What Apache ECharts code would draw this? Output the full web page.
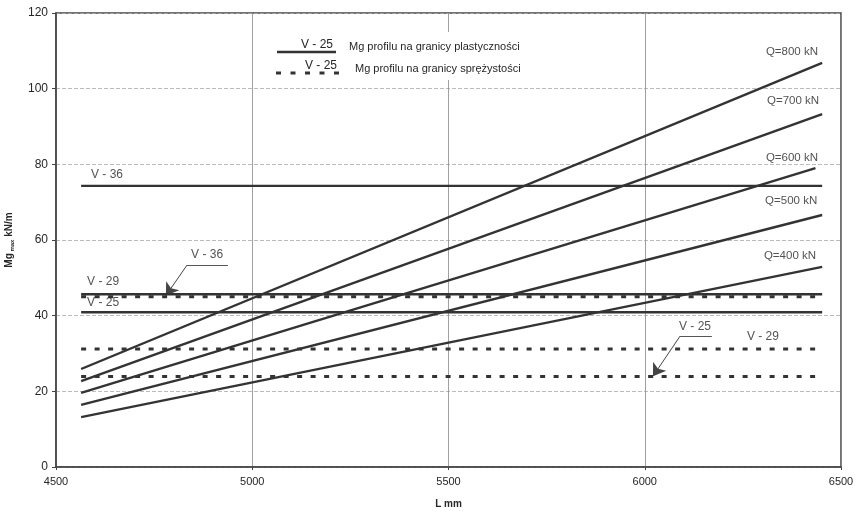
<!DOCTYPE html>
<html>
<head>
<meta charset="utf-8">
<script src="https://cdn.jsdelivr.net/npm/echarts@6/dist/echarts.min.js"></script>
<style>
  html, body { margin: 0; padding: 0; background: #fff; }
  #main { width: 860px; height: 512px; }
</style>
</head>
<body>
<div id="main"></div>
<script>
// --- data ---
var xTicks = [4500, 5000, 5500, 6000, 6500];
var yTicks = [0, 20, 40, 60, 80, 100, 120];

// load lines Q (start at L=4564, end near 6450)
var qNames = ['Q=800 kN', 'Q=700 kN', 'Q=600 kN', 'Q=500 kN', 'Q=400 kN'];
var qStartL = [4564, 4564, 4564, 4564, 4564];
var qStartMg = [25.9, 22.7, 19.6, 16.4, 13.2];
var qEndL = [6452, 6452, 6435, 6452, 6452];
var qEndMg = [106.8, 93.3, 79.0, 66.6, 52.9];
var qLabelPos = [[6375, 109.7], [6378, 96.7], [6375, 81.7], [6373, 70.3], [6370, 55.8]];

// profile capacities: plastic (solid) and elastic (dashed)
var profiles = ['V - 36', 'V - 29', 'V - 25'];
var plasticMg = [74.3, 45.65, 40.9];
var elasticMg = [45.0, 31.2, 23.9];
var profileL = [4564, 6452];

// annotation texts
var textLabels = [
    { name: 'V - 36', value: [4630, 77.2] },
    { name: 'V - 29', value: [4620, 48.9] },
    { name: 'V - 25', value: [4620, 43.4] },
    { name: 'V - 36', value: [4885, 56.0] },
    { name: 'V - 25', value: [6128, 37.0] },
    { name: 'V - 29', value: [6301, 34.4] }
];
// leader lines and arrows (data coords)
var leaders = [
    [[4834, 53.4], [4938, 53.4]],
    [[6090, 34.6], [6171, 34.6]]
];
var arrows = [
    [[4834, 53.4], [4780, 45.3]],
    [[6090, 34.6], [6021, 24.0]]
];

var ink = '#262626';
var font = 'Liberation Sans, Arial, sans-serif';

var chart = echarts.init(document.getElementById('main'));

var series = [];
var each = function (arr, fn) { for (var i = 0; i < arr.length; i++) fn(arr[i], i); };

each(qNames, function (n, i) {
    series.push({
        name: n,
        type: 'line',
        data: [[qStartL[i], qStartMg[i]], [qEndL[i], qEndMg[i]]],
        showSymbol: false,
        lineStyle: { color: '#333', width: 2.4 },
        silent: true
    });
});
each(profiles, function (p, i) {
    series.push({
        name: p + ' plast',
        type: 'line',
        data: [[profileL[0], plasticMg[i]], [profileL[1], plasticMg[i]]],
        showSymbol: false,
        lineStyle: { color: '#333', width: 2.4 },
        silent: true
    });
    series.push({
        name: p + ' spr',
        type: 'line',
        data: [[profileL[0], elasticMg[i]], [profileL[1], elasticMg[i]]],
        showSymbol: false,
        lineStyle: { color: '#333', width: 3, type: [5, 8.5] },
        silent: true
    });
});
series.push({
    type: 'lines',
    coordinateSystem: 'cartesian2d',
    data: leaders.map(function (c) { return { coords: c }; }),
    lineStyle: { color: '#555', width: 1, opacity: 1 },
    symbol: ['none', 'none'],
    silent: true
});
series.push({
    type: 'lines',
    coordinateSystem: 'cartesian2d',
    data: arrows.map(function (c) { return { coords: c }; }),
    lineStyle: { color: '#444', width: 1, opacity: 1 },
    symbol: ['none', 'arrow'],
    symbolSize: [7, 12],
    silent: true
});
series.push({
    type: 'scatter',
    data: textLabels,
    symbolSize: 1,
    itemStyle: { color: 'rgba(0,0,0,0)' },
    label: { show: true, position: 'inside', formatter: '{b}', color: ink, fontSize: 12, fontFamily: font },
    silent: true,
    z: 5
});
series.push({
    type: 'scatter',
    data: qNames.map(function (n, i) { return { name: n, value: qLabelPos[i] }; }),
    symbolSize: 1,
    itemStyle: { color: 'rgba(0,0,0,0)' },
    label: { show: true, position: 'inside', formatter: '{b}', color: ink, fontSize: 11.5, fontFamily: font },
    silent: true,
    z: 5
});

chart.setOption({
    animation: false,
    backgroundColor: '#fff',
    grid: {
        left: 56, right: 19, top: 13, bottom: 45,
        outerBoundsMode: 'none', containLabel: false,
        show: true, borderColor: '#444', borderWidth: 1.5
    },
    xAxis: {
        type: 'value',
        min: xTicks[0], max: xTicks[xTicks.length - 1], interval: 500,
        name: 'L mm', nameLocation: 'middle', nameGap: 32,
        nameTextStyle: { color: ink, fontSize: 10, fontWeight: 'bold', fontFamily: font },
        axisLine: { lineStyle: { color: '#444', width: 1.5 } },
        axisTick: { show: true, length: 3, lineStyle: { color: '#444' } },
        axisLabel: { color: ink, fontSize: 11, margin: 9, fontFamily: font, formatter: function (v) { return String(v); } },
        splitLine: { show: true, lineStyle: { color: '#888', width: 0.8 } }
    },
    yAxis: {
        type: 'value',
        min: yTicks[0], max: yTicks[yTicks.length - 1], interval: 20,
        name: 'Mg{s| max} kN/m', nameLocation: 'middle', nameGap: 41, nameRotate: 90,
        nameTextStyle: {
            color: ink, fontSize: 10, fontWeight: 'bold', fontFamily: font,
            rich: { s: { fontSize: 6, fontWeight: 'bold', color: ink, fontFamily: font, padding: [6, 0, 0, 0] } }
        },
        axisLine: { show: true, lineStyle: { color: '#444', width: 1.5 } },
        axisTick: { show: true, length: 4, lineStyle: { color: '#444' } },
        axisLabel: { color: ink, fontSize: 12, margin: 8, fontFamily: font },
        splitLine: { show: true, lineStyle: { color: '#aaa', width: 0.8, type: [4, 2] } }
    },
    graphic: [
        { type: 'rect', shape: { x: 268, y: 32, width: 280, height: 48 }, style: { fill: '#fff' }, z: 10 },
        { type: 'line', shape: { x1: 277, y1: 52, x2: 336, y2: 52 }, style: { stroke: '#333', lineWidth: 2.4 }, z: 11 },
        { type: 'text', x: 317, y: 45, style: { text: 'V - 25', fill: ink, font: '12px ' + font, textAlign: 'center', textVerticalAlign: 'middle' }, z: 11 },
        { type: 'text', x: 349, y: 47, style: { text: 'Mg profilu na granicy plastyczności', fill: ink, font: '11px ' + font, textVerticalAlign: 'middle' }, z: 11 },
        { type: 'line', shape: { x1: 276, y1: 73, x2: 343, y2: 73 }, style: { stroke: '#333', lineWidth: 3, lineDash: [5, 9.5] }, z: 11 },
        { type: 'text', x: 321, y: 66, style: { text: 'V - 25', fill: ink, font: '12px ' + font, textAlign: 'center', textVerticalAlign: 'middle' }, z: 11 },
        { type: 'text', x: 355, y: 69, style: { text: 'Mg profilu na granicy sprężystości', fill: ink, font: '11px ' + font, textVerticalAlign: 'middle' }, z: 11 }
    ],
    series: series
});
</script>
</body>
</html>
